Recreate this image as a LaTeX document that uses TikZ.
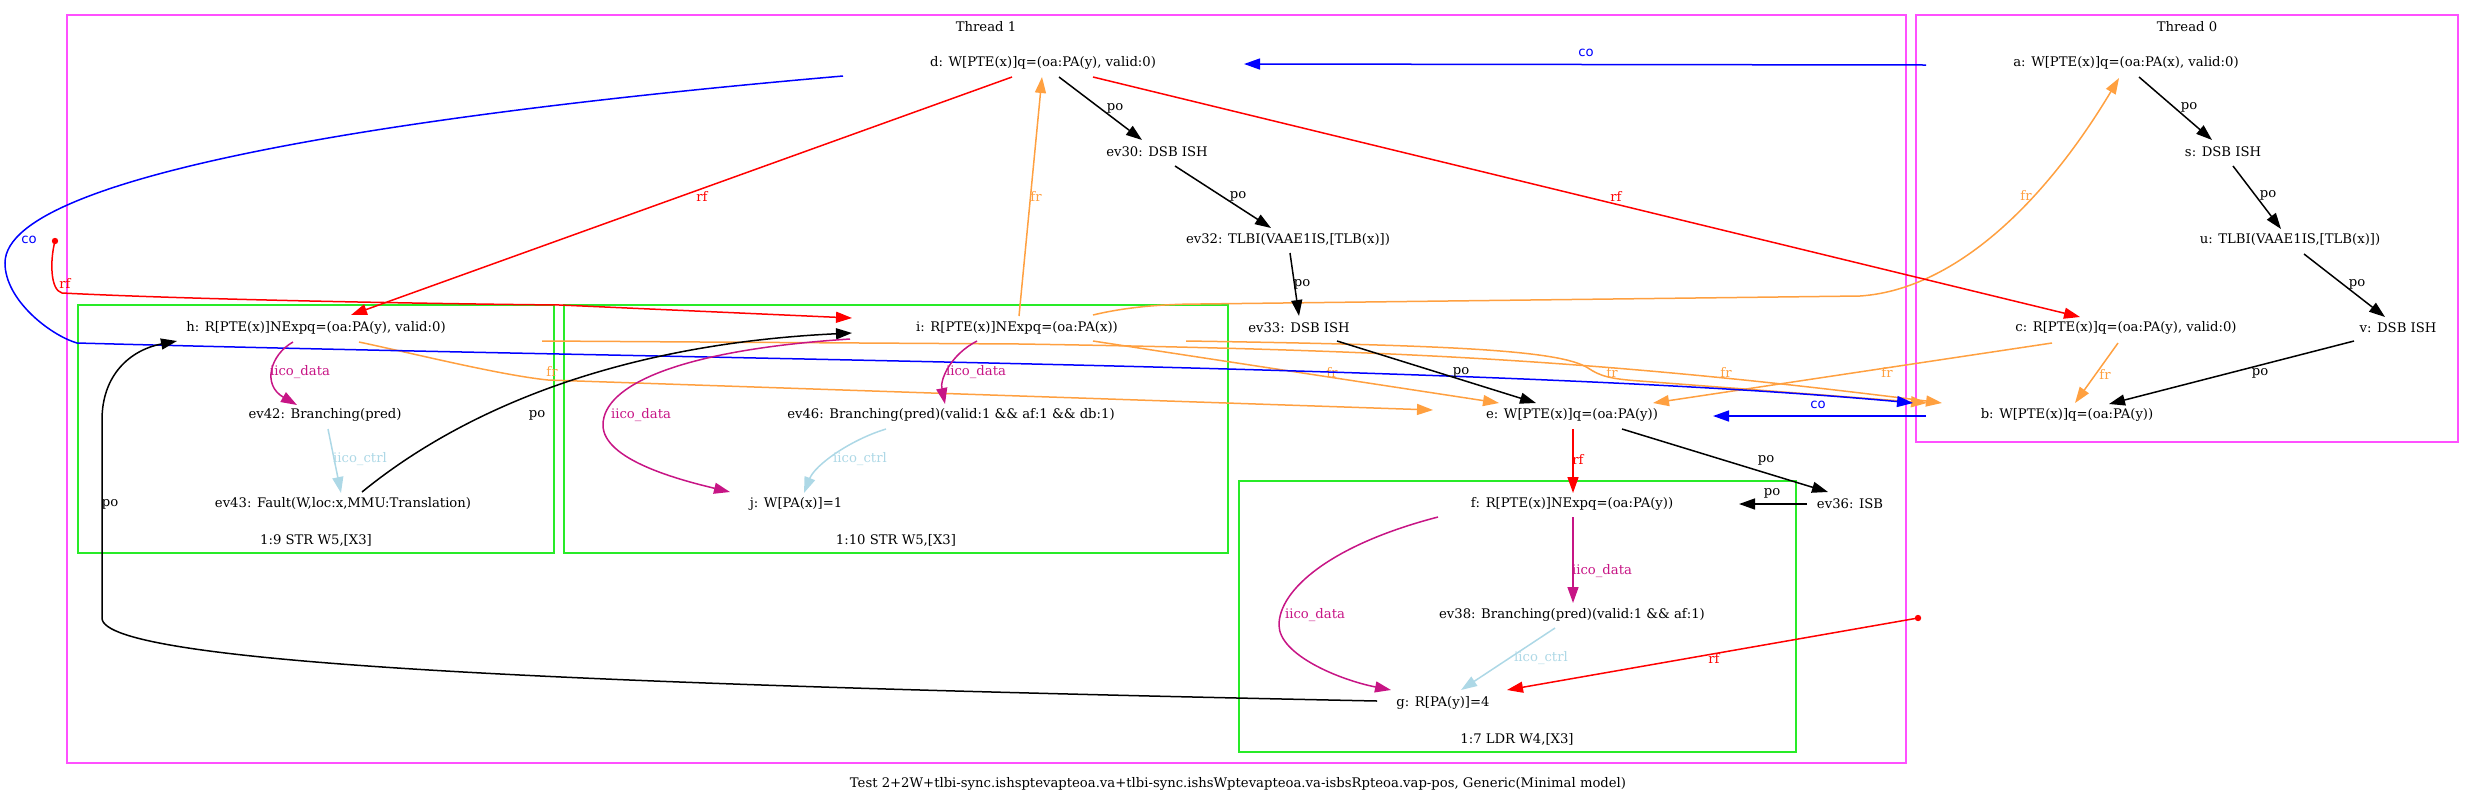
\documentclass[tikz,border=0pt]{standalone}
\usepackage{fontspec}
\setmainfont{DejaVu Serif}
\newfontfamily\cofont{DejaVu Sans}
\usetikzlibrary{arrows.meta,calc}
\definecolor{thrc}{RGB}{255,80,255}
\definecolor{grpc}{RGB}{40,235,40}
\definecolor{frc}{RGB}{255,160,64}
\definecolor{datc}{RGB}{199,21,133}
\definecolor{ctlc}{RGB}{173,216,230}
\begin{document}
\begin{tikzpicture}[x=0.5pt,y=-0.5pt,
  txt/.style={inner sep=0pt, font=\fontsize{6.6}{8}\selectfont},
  lbl/.style={inner sep=0pt, font=\fontsize{6.6}{8}\selectfont},
  lco/.style={inner sep=0pt, font=\cofont\fontsize{6.6}{8}\selectfont, text=blue},
  edg/.style={line width=0.75pt, -{Triangle[length=8pt,width=5.5pt]}},
  por/.style={edg, black},
  rfr/.style={edg, red},
  cor/.style={edg, blue},
  frr/.style={edg, frc},
  dat/.style={edg, datc},
  ctl/.style={edg, ctlc},
  thr/.style={draw=thrc, line width=1pt},
  grp/.style={draw=grpc, line width=1pt}]
\useasboundingbox (0,0) rectangle (2477,804);
% clusters
\draw[thr] (67,15) rectangle (1906,763);
\node[txt] (t1) at (986,27) {Thread 1};
\draw[thr] (1916,15) rectangle (2458,442);
\node[txt] (t0) at (2187,27) {Thread 0};
\draw[grp] (78,305) rectangle (554,553);
\node[txt] (g9) at (316,540) {1:9 STR W5,[X3]};
\draw[grp] (564,305) rectangle (1228,553);
\node[txt] (g10) at (896,540) {1:10 STR W5,[X3]};
\draw[grp] (1239,481) rectangle (1796,752);
\node[txt] (g7) at (1517,739) {1:7 LDR W4,[X3]};
\node[txt] (cap) at (1238,784) {Test 2+2W+tlbi-sync.ishsptevapteoa.va+tlbi-sync.ishsWptevapteoa.va-isbsRpteoa.vap-pos, Generic(Minimal model)};
% nodes thread 1
\node[txt] (d) at (1043,63) {d: W[PTE(x)]q=(oa:PA(y), valid:0)};
\node[txt] (ev30) at (1157,152) {ev30: DSB ISH};
\node[txt] (ev32) at (1288,240) {ev32: TLBI(VAAE1IS,[TLB(x)])};
\node[txt] (ev33) at (1299,328) {ev33: DSB ISH};
\node[txt] (e) at (1572,415) {e: W[PTE(x)]q=(oa:PA(y))};
\node[txt] (ev36) at (1850,504) {ev36: ISB};
\node[txt] (f) at (1572,504) {f: R[PTE(x)]NExpq=(oa:PA(y))};
\node[txt] (ev38) at (1572,615) {ev38: Branching(pred)(valid:1 \&\& af:1)};
\node[txt] (g) at (1443,703) {g: R[PA(y)]=4};
\node[txt] (h) at (316,328) {h: R[PTE(x)]NExpq=(oa:PA(y), valid:0)};
\node[txt] (ev42) at (325,415) {ev42: Branching(pred)};
\node[txt] (ev43) at (343,504) {ev43: Fault(W,loc:x,MMU:Translation)};
\node[txt] (i) at (1017,328) {i: R[PTE(x)]NExpq=(oa:PA(x))};
\node[txt] (ev46) at (951,415) {ev46: Branching(pred)(valid:1 \&\& af:1 \&\& db:1)};
\node[txt] (j) at (796,504) {j: W[PA(x)]=1};
% nodes thread 0
\node[txt] (a) at (2126,63) {a: W[PTE(x)]q=(oa:PA(x), valid:0)};
\node[txt] (s) at (2223,152) {s: DSB ISH};
\node[txt] (u) at (2290,240) {u: TLBI(VAAE1IS,[TLB(x)])};
\node[txt] (v) at (2398,328) {v: DSB ISH};
\node[txt] (c) at (2126,328) {c: R[PTE(x)]q=(oa:PA(y), valid:0)};
\node[txt] (b) at (2067,415) {b: W[PTE(x)]q=(oa:PA(y))};
\coordinate (r1) at (55,241);
\coordinate (r2) at (1918,618);
\fill[red] (r1) circle[radius=1.6pt];
\fill[red] (r2) circle[radius=1.6pt];
% fr edges
\draw[frr] ($(i)+(2,-12)$) -- ($(d)+(-1,14)$);
\node[lbl,text=frc] (lfr1) at (1036,196) {fr};
\draw[frr] ($(i)+(76,-13)$) .. controls (1130,306) and (1170,304) .. (1200,304) -- (1860,296) .. controls (1950,290) and (2040,210) .. ($(a)+(-7,15)$);
\node[lbl,text=frc] (lfr2) at (2026,195) {fr};
\draw[frr] ($(h)+(43,14)$) .. controls (420,355) and (500,375) .. (548,380) -- ($(e)+(-139,-5)$);
\node[lbl,text=frc] (lfr3) at (552,371) {fr};
\draw[frr] ($(i)+(76,13)$) -- ($(e)+(-73,-12)$);
\node[lbl,text=frc] (lfr4) at (1332,372) {fr};
\draw[frr] ($(c)+(-74,15)$) -- ($(e)+(81,-12)$);
\node[lbl,text=frc] (lfr5) at (1887,372) {fr};
\draw[frr] ($(c)+(-8,15)$) -- ($(b)+(8,-12)$);
\node[lbl,text=frc] (lfr6) at (2105,374) {fr};
\draw[frr] ($(h)+(226,13)$) -- (1020,344) .. controls (1400,350) and (1600,360) .. ($(b)+(-125,-12)$);
\node[lbl,text=frc] (lfr7) at (1726,372) {fr};
\draw[frr] ($(i)+(169,13)$) .. controls (1450,345) and (1560,350) .. (1588,368) .. controls (1600,376) and (1610,379) .. (1640,381) -- ($(b)+(-140,-12)$);
\node[lbl,text=frc] (lfr8) at (1612,372) {fr};
% co edges
\draw[cor] ($(a)+(-200,2)$) -- ($(d)+(201,1)$);
\node[lco] (lco1) at (1586,53) {co};
\draw[cor] ($(b)+(-141,1)$) -- ($(e)+(141,1)$);
\node[lco] (lco2) at (1818,405) {co};
\draw[cor] ($(d)+(-200,13)$) .. controls (450,110) and (5,170) .. (5,263) .. controls (5,300) and (50,335) .. (77,343) .. controls (700,360) and (1500,365) .. ($(b)+(-154,-12)$);
\node[lco] (lco3) at (29,240) {co};
% rf edges
\draw[rfr] ($(d)+(-31,14)$) -- ($(h)+(35,-13)$);
\node[lbl,text=red] (lrf1) at (702,196) {rf};
\draw[rfr] ($(d)+(50,14)$) -- ($(c)+(-46,-11)$);
\node[lbl,text=red] (lrf2) at (1616,196) {rf};
\draw[rfr] (r1) .. controls (50,260) and (50,290) .. (62,293) .. controls (200,300) and (450,304) .. (560,305) -- ($(i)+(-165,-10)$);
\node[lbl,text=red] (lrf3) at (65,283) {rf};
\draw[rfr] (r2) -- ($(g)+(64,-13)$);
\node[lbl,text=red] (lrf4) at (1714,658) {rf};
\draw[rfr] ($(e)+(1,14)$) -- ($(f)+(1,-11)$);
\node[lbl,text=red] (lrf5) at (1578,459) {rf};
% po edges
\draw[por] ($(d)+(16,14)$) -- ($(ev30)+(-15,-12)$);
\node[lbl] (lpo1) at (1115,108) {po};
\draw[por] ($(ev30)+(18,14)$) -- ($(ev32)+(-17,-12)$);
\node[lbl] (lpo2) at (1238,196) {po};
\draw[por] ($(ev32)+(2,13)$) -- ($(ev33)+(0,-12)$);
\node[lbl] (lpo3) at (1302,284) {po};
\draw[por] ($(ev33)+(38,13)$) -- ($(e)+(-36,-12)$);
\node[lbl] (lpo4) at (1461,372) {po};
\draw[por] ($(e)+(50,14)$) -- ($(ev36)+(-22,-12)$);
\node[lbl] (lpo5) at (1766,460) {po};
\draw[por] ($(ev36)+(-43,0)$) -- ($(f)+(167,0)$);
\node[lbl] (lpo6) at (1772,493) {po};
\draw[por] ($(g)+(-66,-2)$) .. controls (600,685) and (102,665) .. (102,618) -- (102,420) .. controls (102,375) and (130,350) .. ($(h)+(-139,13)$);
\node[lbl] (lpo7) at (110,504) {po};
\draw[por] ($(ev43)+(19,-12)$) .. controls (450,420) and (600,345) .. ($(i)+(-165,5)$);
\node[lbl] (lpo8) at (537,415) {po};
\draw[por] ($(a)+(13,14)$) -- ($(s)+(-11,-12)$);
\node[lbl] (lpo9) at (2189,107) {po};
\draw[por] ($(s)+(10,14)$) -- ($(u)+(-9,-11)$);
\node[lbl] (lpo10) at (2268,195) {po};
\draw[por] ($(u)+(14,14)$) -- ($(v)+(-13,-11)$);
\node[lbl] (lpo11) at (2357,284) {po};
\draw[por] ($(v)+(-44,13)$) -- ($(b)+(42,-11)$);
\node[lbl] (lpo12) at (2260,373) {po};
% iico_data
\draw[dat] ($(h)+(-23,14)$) .. controls (270,355) and (262,385) .. ($(ev42)+(-28,-10)$);
\node[lbl,text=datc] (ld1) at (300,372) {iico\_data};
\draw[dat] ($(i)+(-40,13)$) .. controls (950,355) and (940,380) .. ($(ev46)+(-6,-11)$);
\node[lbl,text=datc] (ld2) at (976,372) {iico\_data};
\draw[dat] ($(i)+(-167,11)$) .. controls (680,350) and (603,385) .. (603,425) .. controls (603,460) and (680,480) .. ($(j)+(-66,-12)$);
\node[lbl,text=datc] (ld3) at (641,415) {iico\_data};
\draw[dat] ($(f)+(1,13)$) -- ($(ev38)+(1,-12)$);
\node[lbl,text=datc] (ld4) at (1602,571) {iico\_data};
\draw[dat] ($(f)+(-134,13)$) .. controls (1330,545) and (1279,590) .. (1279,625) .. controls (1279,655) and (1340,680) .. ($(g)+(-52,-13)$);
\node[lbl,text=datc] (ld5) at (1315,615) {iico\_data};
% iico_ctrl
\draw[ctl] ($(ev42)+(3,14)$) -- ($(ev43)+(-2,-11)$);
\node[lbl,text=ctlc] (lc1) at (360,459) {iico\_ctrl};
\draw[ctl] ($(ev46)+(-65,14)$) .. controls (850,440) and (815,465) .. ($(j)+(8,-11)$);
\node[lbl,text=ctlc] (lc2) at (860,459) {iico\_ctrl};
\draw[ctl] ($(ev38)+(-17,13)$) -- ($(g)+(18,-13)$);
\node[lbl,text=ctlc] (lc3) at (1541,658) {iico\_ctrl};
\end{tikzpicture}
\end{document}
